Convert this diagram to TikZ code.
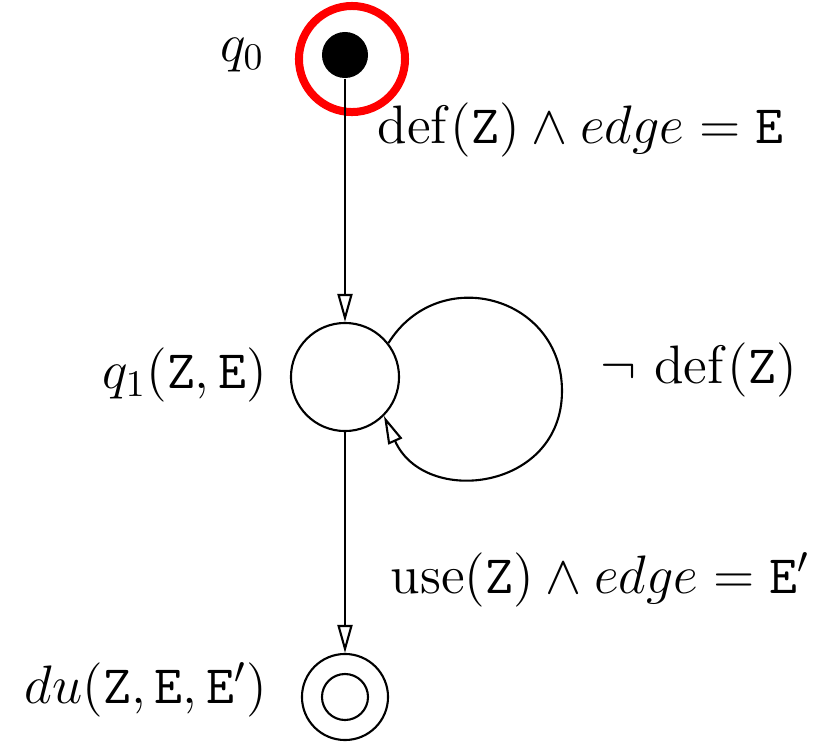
\documentclass[tikz,border=0pt]{standalone}
\usepackage{amsmath}
\usetikzlibrary{arrows.meta}
\definecolor{startring}{HTML}{FF0000}
\tikzset{
  state/.style={circle, draw, line width=0.6pt, inner sep=0pt, minimum size=1.08cm},
  initstate/.style={circle, fill=black, inner sep=0pt, minimum size=0.46cm},
  finalstate/.style={circle, draw, line width=0.6pt, inner sep=0pt, minimum size=0.86cm},
  innerring/.style={circle, draw, line width=0.6pt, inner sep=0pt, minimum size=0.46cm},
  markring/.style={circle, draw=startring, line width=0.08cm, inner sep=0pt, minimum size=1.06cm},
  trans/.style={line width=0.6pt, -{Triangle[open, length=0.28cm, width=0.15cm]}},
  lbl/.style={font=\Large, inner sep=0pt, scale=1.07, transform shape},
}
\begin{document}
\begin{tikzpicture}[x=0.01cm, y=0.01cm]
  \useasboundingbox (0,0) rectangle (823,741);
  % states
  \node[initstate] (q0) at (345,686) {};
  \node[markring] (mark) at (352,682) {};
  \node[state] (q1) at (345,364) {};
  \node[finalstate] (du) at (345,44) {};
  \node[innerring] (duin) at (du) {};
  % state names
  \node[lbl, anchor=east] (q0name) at (265,686) {$q_0$};
  \node[lbl, anchor=east] (q1name) at (268,366) {$q_1(\mathtt{Z},\mathtt{E})$};
  \node[lbl, anchor=east] (duname) at (268,51) {$du(\mathtt{Z},\mathtt{E},\mathtt{E}')$};
  % guards
  \node[lbl, anchor=west] (g1) at (377,611) {$\mathrm{def}(\mathtt{Z}) \wedge edge = \mathtt{E}$};
  \node[lbl, anchor=west] (g2) at (600,371) {$\neg\ \mathrm{def}(\mathtt{Z})$};
  \node[lbl, anchor=west] (g3) at (390,161) {$\mathrm{use}(\mathtt{Z}) \wedge edge = \mathtt{E}'$};
  % transitions
  \draw[trans] (q0) -- (q1);
  \draw[trans] (q1) -- (du);
  \coordinate (loopR) at (562,350);
  \draw[trans] (q1.38) to[out=58, in=90, looseness=1.35] (loopR)
    to[out=-90, in=-66, looseness=1.42] (q1.-45);
\end{tikzpicture}
\end{document}
